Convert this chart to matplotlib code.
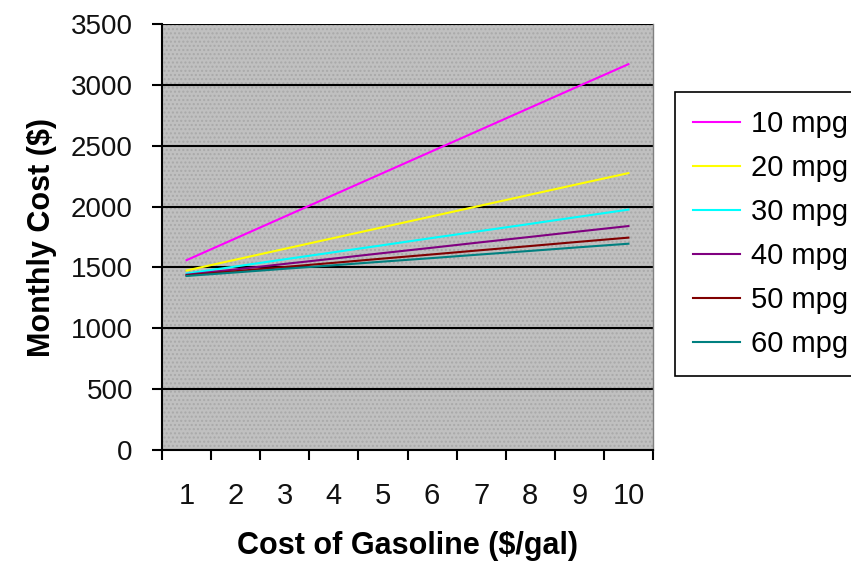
import matplotlib
matplotlib.use("Agg")
import matplotlib.pyplot as plt
from matplotlib.ticker import FixedLocator, NullFormatter

plt.rcParams['font.family'] = ['Liberation Sans', 'DejaVu Sans']

prices = ["1", "2", "3", "4", "5", "6", "7", "8", "9", "10"]
mpg10 = [1560, 1739, 1918, 2097, 2276, 2455, 2634, 2813, 2992, 3170]
mpg20 = [1475, 1564, 1653, 1742, 1831, 1920, 2009, 2098, 2187, 2275]
mpg30 = [1450, 1508, 1567, 1625, 1683, 1742, 1800, 1858, 1917, 1975]
mpg40 = [1440, 1484, 1529, 1573, 1618, 1662, 1707, 1751, 1796, 1840]
mpg50 = [1435, 1469, 1504, 1538, 1573, 1607, 1642, 1676, 1711, 1745]
mpg60 = [1430, 1459, 1489, 1518, 1548, 1577, 1607, 1636, 1666, 1695]
labels = ["10 mpg", "20 mpg", "30 mpg", "40 mpg", "50 mpg", "60 mpg"]
colors = ["#ff00ff", "#ffff00", "#00ffff", "#800080", "#800000", "#008080"]
series = [mpg10, mpg20, mpg30, mpg40, mpg50, mpg60]

fig = plt.figure(figsize=(8.51, 5.65), dpi=100)
ax = fig.add_axes([0.1904, 0.2035, 0.5769, 0.754])
ax.set_facecolor('#c0c0c0')
ax.patch.set_hatch('....')
ax.patch.set_edgecolor('#a9a9a9')
ax.patch.set_linewidth(0)

x = list(range(len(prices)))
for s, lab, c in zip(series, labels, colors):
    ax.plot(x, s, color=c, lw=1.5, label=lab, zorder=3)

ax.set_ylim(0, 3500)
ax.set_xlim(-0.5, len(prices) - 0.5)
ax.set_yticks(range(0, 3501, 500))
ax.yaxis.grid(True, color='black', lw=1.5, zorder=1)
ax.set_axisbelow(True)

ax.xaxis.set_major_locator(FixedLocator([i - 0.5 for i in range(len(prices) + 1)]))
ax.xaxis.set_major_formatter(NullFormatter())
ax.set_xticks(x, minor=True)
ax.set_xticklabels(prices, minor=True)
ax.tick_params(axis='x', which='major', direction='out', length=7, width=1.5, color='black')
ax.tick_params(axis='x', which='minor', length=0, pad=23, labelsize=21, labelcolor='#111111')
ax.tick_params(axis='y', direction='out', length=7, width=1.5, pad=14, labelsize=20, labelcolor='#111111')

for side in ['left', 'bottom']:
    ax.spines[side].set_linewidth(1.5)
    ax.spines[side].set_color('black')
ax.spines['top'].set_visible(False)
ax.spines['right'].set_color('#808080')
ax.spines['right'].set_linestyle((0, (1, 1)))
ax.spines['right'].set_linewidth(1)

ax.set_xlabel('Cost of Gasoline ($/gal)', fontsize=22, fontweight='bold', labelpad=15)
ax.set_ylabel('Monthly Cost ($)', fontsize=22, fontweight='bold', labelpad=10)

leg = fig.legend(loc='upper left', bbox_to_anchor=(675/851, 1 - 92/565), bbox_transform=fig.transFigure,
                 fontsize=21, frameon=True, fancybox=False, edgecolor='black', framealpha=1,
                 handlelength=1.6, handletextpad=0.4, labelspacing=0.55, borderpad=0.62,
                 borderaxespad=0)
leg.get_frame().set_linewidth(1.2)

fig.savefig('out.png', dpi=100)
